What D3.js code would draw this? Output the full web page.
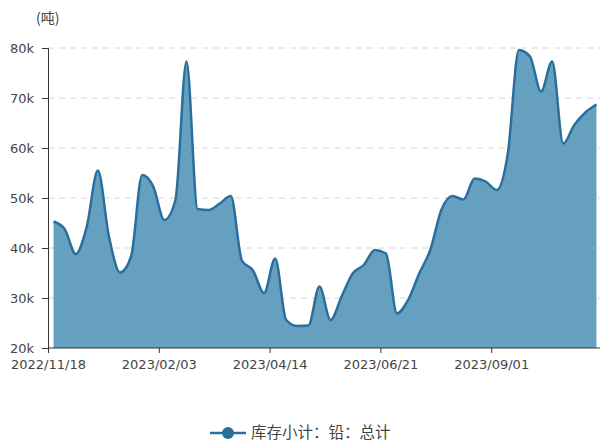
<!DOCTYPE html>
<html>
  <head>
    <meta charset="utf-8">
    <title>库存小计：铅：总计</title>
    <script src="https://d3js.org/d3.v7.min.js"></script>
    <style>
      body { margin: 0; background: #fff; }
      text { font-family: "DejaVu Sans", "Noto Sans CJK SC", sans-serif; }
      .cjk { font-family: "Noto Sans CJK SC", sans-serif; }
    </style>
  </head>
  <body>
    <svg width="600" height="443"></svg>
    <script>
      // weekly trading dates (category axis)
      const dates = [
        "2022/11/18", "2022/11/25", "2022/12/02", "2022/12/09", "2022/12/16",
        "2022/12/23", "2022/12/30", "2023/01/06", "2023/01/13", "2023/01/20",
        "2023/02/03", "2023/02/10", "2023/02/17", "2023/02/24", "2023/03/03",
        "2023/03/10", "2023/03/17", "2023/03/24", "2023/03/31", "2023/04/07",
        "2023/04/14", "2023/04/21", "2023/04/28", "2023/05/05", "2023/05/12",
        "2023/05/19", "2023/05/26", "2023/06/02", "2023/06/09", "2023/06/16",
        "2023/06/21", "2023/06/30", "2023/07/07", "2023/07/14", "2023/07/21",
        "2023/07/28", "2023/08/04", "2023/08/11", "2023/08/18", "2023/08/25",
        "2023/09/01", "2023/09/08", "2023/09/15", "2023/09/22", "2023/09/28",
        "2023/10/13", "2023/10/20", "2023/10/27", "2023/11/03", "2023/11/10"
      ];
      // 库存小计：铅：总计 (吨)
      const stock = [
        45300, 43800, 38800, 44300, 55500, 42300, 35100, 38300, 54600, 52300,
        45600, 49600, 77300, 47800, 47600, 48900, 50400, 37500, 35500, 31000,
        37900, 25600, 24400, 24500, 32300, 25600, 30300, 34900, 36600, 39600,
        38900, 26900, 29600, 34900, 39600, 47600, 50400, 49700, 53900, 53300,
        51600, 58900, 79600, 78300, 71300, 77300, 60900, 64600, 67100, 68700
      ];
      const yTicks = [20000, 30000, 40000, 50000, 60000, 70000, 80000];
      const seriesName = "库存小计：铅：总计";
      const unitLabel = "(吨)";

      function main() {
        const svg = d3.select("svg");
        const left = 48, right = 602, top = 48, bottom = 348;

        const x = d3.scaleBand().domain(dates).range([left, right]);
        const cx = d => x(d) + x.bandwidth() / 2;
        const y = d3.scaleLinear().domain([20000, 80000]).range([bottom, top]);

        // grid
        svg.append("g").selectAll("line")
          .data(yTicks.filter(t => t > 20000))
          .join("line")
            .attr("x1", left).attr("x2", 600)
            .attr("y1", d => y(d)).attr("y2", d => y(d))
            .attr("stroke", "#d6d6d6")
            .attr("stroke-dasharray", "6,5");

        const data = dates.map((d, i) => ({date: d, value: stock[i]}));

        const area = d3.area()
          .x(d => cx(d.date))
          .y0(bottom)
          .y1(d => y(d.value))
          .curve(d3.curveMonotoneX);
        const line = d3.line()
          .x(d => cx(d.date))
          .y(d => y(d.value))
          .curve(d3.curveMonotoneX);

        svg.append("path").datum(data)
          .attr("d", area)
          .attr("fill", "#66a0c0");
        svg.append("path").datum(data)
          .attr("d", line)
          .attr("fill", "none")
          .attr("stroke", "#2a6f9b")
          .attr("stroke-width", 2.5);

        // y axis
        const yAxis = d3.axisLeft(y)
          .tickValues(yTicks)
          .tickSize(6)
          .tickPadding(8)
          .tickFormat(d => (d / 1000) + "k");
        const gy = svg.append("g")
          .attr("transform", `translate(${left},0)`)
          .call(yAxis);
        gy.select(".domain").attr("stroke", "#333");
        gy.selectAll(".tick line").attr("stroke", "#333");
        gy.selectAll(".tick text")
          .attr("fill", "#444")
          .style("font-family", "DejaVu Sans")
          .style("font-size", "13px");

        // x axis, label every 10th category at band start
        const xLabels = dates.filter((d, i) => i % 10 === 0);
        const xPos = d3.scalePoint().domain(xLabels)
          .range([left, left + x.step() * 40]);
        const xAxis = d3.axisBottom(xPos)
          .tickSize(5)
          .tickPadding(7);
        const gx = svg.append("g")
          .attr("transform", `translate(0,${bottom})`)
          .call(xAxis);
        gx.select(".domain").remove();
        gx.append("line")
          .attr("x1", left).attr("x2", 600)
          .attr("stroke", "#333");
        gx.selectAll(".tick line").attr("stroke", "#333");
        gx.selectAll(".tick text")
          .attr("fill", "#444")
          .style("font-family", "DejaVu Sans")
          .style("font-size", "13px");

        // unit
        svg.append("text")
          .attr("class", "cjk")
          .attr("x", 36).attr("y", 23)
          .attr("fill", "#444")
          .style("font-size", "14px")
          .text(unitLabel);

        // legend
        const lg = svg.append("g").attr("transform", "translate(210,433)");
        lg.append("line")
          .attr("x1", 0).attr("x2", 36)
          .attr("stroke", "#2a6f9b").attr("stroke-width", 2.5);
        lg.append("circle")
          .attr("cx", 18).attr("r", 6)
          .attr("fill", "#2a6f9b");
        lg.append("text")
          .attr("class", "cjk")
          .attr("x", 41).attr("dy", "0.35em")
          .attr("fill", "#444")
          .style("font-size", "15.5px")
          .text(seriesName);
      }
      main();
    </script>
  </body>
</html>
